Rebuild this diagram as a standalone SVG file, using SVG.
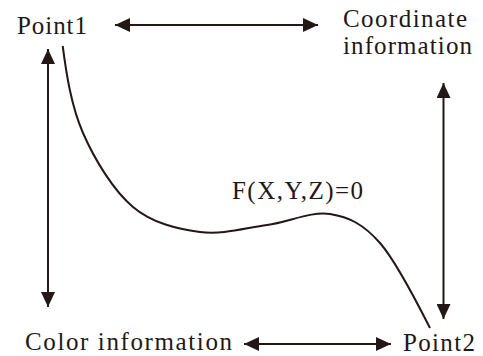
<svg xmlns="http://www.w3.org/2000/svg" width="483" height="356" viewBox="0 0 483 356">
<style>
text{font-family:"Liberation Serif","Times New Roman",serif;font-size:25px;fill:#231815}
.c{fill:none;stroke:#231815;stroke-width:2}
</style>
<defs>
<marker id="ah" markerUnits="userSpaceOnUse" markerWidth="16" markerHeight="14" refX="15" refY="7" orient="auto-start-reverse">
<path d="M0,0 L15,7 L0,14 Z" fill="#231815"/>
</marker>
</defs>
<rect width="483" height="356" fill="#fff"/>
<g id="point1"><text x="17" y="34" textLength="70" lengthAdjust="spacing">Point1</text></g>
<g id="coordinate"><text x="343" y="27" textLength="124" lengthAdjust="spacing">Coordinate</text><text x="343" y="54" textLength="129" lengthAdjust="spacing">information</text></g>
<g id="color"><text x="25" y="350" textLength="207" lengthAdjust="spacing">Color information</text></g>
<g id="point2"><text x="403" y="351" textLength="72" lengthAdjust="spacing">Point2</text></g>
<g id="equation"><text x="232" y="199" textLength="131" lengthAdjust="spacing">F(X,Y,Z)=0</text></g>
<g id="curve"><path class="c" d="M62.7,46 C66.5,75 71.3,106.2 83,133 C94.7,159.8 113.5,190.5 133,207 C152.5,223.5 177.7,229 200,232 C222.3,235 245.3,228 267,225 C288.7,222 311.2,211 330,214 C348.8,217 363.3,224 380,243 C396.7,262 422,312.3 430,328"/></g>
<g id="connectors" class="c" marker-start="url(#ah)" marker-end="url(#ah)">
<line x1="115" y1="25" x2="318" y2="25"/>
<line x1="48" y1="49" x2="48" y2="307"/>
<line x1="443.5" y1="83" x2="443.5" y2="319"/>
<line x1="244" y1="344" x2="391" y2="344"/>
</g>
</svg>
